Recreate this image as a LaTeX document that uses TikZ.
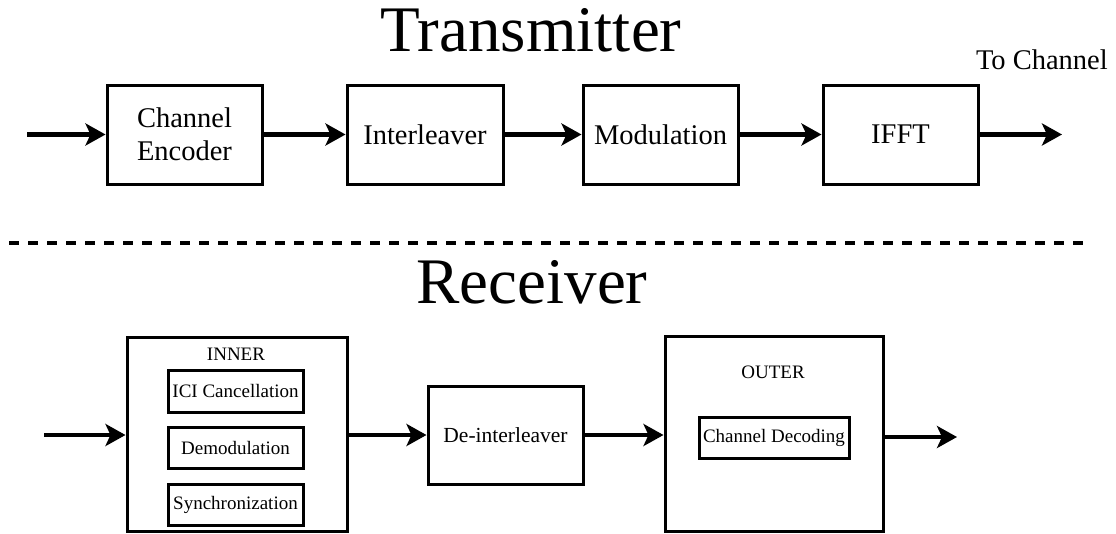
\documentclass[tikz,border=0pt]{standalone}
\usepackage{fontspec}
\setmainfont{Liberation Serif}
\usetikzlibrary{arrows.meta}

\tikzset{
  blk/.style={draw, line width=3pt, rectangle, inner sep=0pt,
              font=\fontsize{28.5}{33}\selectfont, align=center},
  sub/.style={draw, line width=3pt, rectangle, inner sep=0pt,
              font=\fontsize{19}{22}\selectfont},
  lbl/.style={inner sep=0pt, font=\fontsize{19}{22}\selectfont},
  title/.style={inner sep=0pt, font=\fontsize{65}{70}\selectfont},
  arr/.style={line width=4.5pt, -{Stealth[length=20pt,width=22pt,inset=5pt]}},
}

\begin{document}
\begin{tikzpicture}[x=1pt,y=-1pt]
\useasboundingbox (0,0) rectangle (1116,533);

% ---- Transmitter chain ----
\node[title] (ttx) at (531,30) {Transmitter};

\node[blk, minimum width=155pt, minimum height=99pt] (enc) at (184.5,134.5) {Channel\\Encoder};
\node[blk, minimum width=156pt, minimum height=99pt] (ilv) at (425,134.5) {Interleaver};
\node[blk, minimum width=155pt, minimum height=99pt] (mod) at (660.5,134.5) {Modulation};
\node[blk, minimum width=155pt, minimum height=99pt] (ifft) at (900.5,134.5) {IFFT};

\coordinate (txin) at (27,134.5);
\coordinate (txout) at (1062,134.5);
\node[inner sep=0pt, anchor=east, font=\fontsize{28.5}{33}\selectfont] (tochan) at (1108,60) {To Channel};

\draw[arr] (txin) -- (enc.west);
\draw[arr] (enc.east) -- (ilv.west);
\draw[arr] (ilv.east) -- (mod.west);
\draw[arr] (mod.east) -- (ifft.west);
\draw[arr] (ifft.east) -- (txout);

% ---- separator ----
\coordinate (sepL) at (9,242.5);
\coordinate (sepR) at (1083,242.5);
\draw[line width=4pt, dash pattern=on 9.5pt off 9.5pt] (sepL) -- (sepR);

% ---- Receiver chain ----
\node[title] (trx) at (532,282) {Receiver};

\node[blk, minimum width=220pt, minimum height=194pt] (inner) at (237,434) {};
\node[lbl] (innerlbl) at (236,354) {INNER};
\node[sub, minimum width=135pt, minimum height=42pt] (ici) at (235.5,391) {ICI Cancellation};
\node[sub, minimum width=135pt, minimum height=41pt] (demod) at (235.5,447.5) {Demodulation};
\node[sub, minimum width=135pt, minimum height=41pt] (sync) at (235.5,504.5) {Synchronization};

\node[blk, minimum width=155pt, minimum height=98pt, font=\fontsize{21.5}{26}\selectfont] (deint) at (505.5,435) {De-interleaver};

\node[blk, minimum width=218pt, minimum height=195pt] (outer) at (774,433.5) {};
\node[lbl] (outerlbl) at (773,372) {OUTER};
\node[sub, minimum width=150pt, minimum height=41pt] (cdec) at (774,437.5) {Channel Decoding};

\coordinate (rxin) at (44,435);
\coordinate (rxout) at (957,437);

\draw[arr] (rxin) -- (inner.west |- rxin);
\draw[arr] (inner.east |- deint.west) -- (deint.west);
\draw[arr] (deint.east) -- (outer.west |- deint.east);
\draw[arr] (outer.east |- rxout) -- (rxout);
\end{tikzpicture}
\end{document}
